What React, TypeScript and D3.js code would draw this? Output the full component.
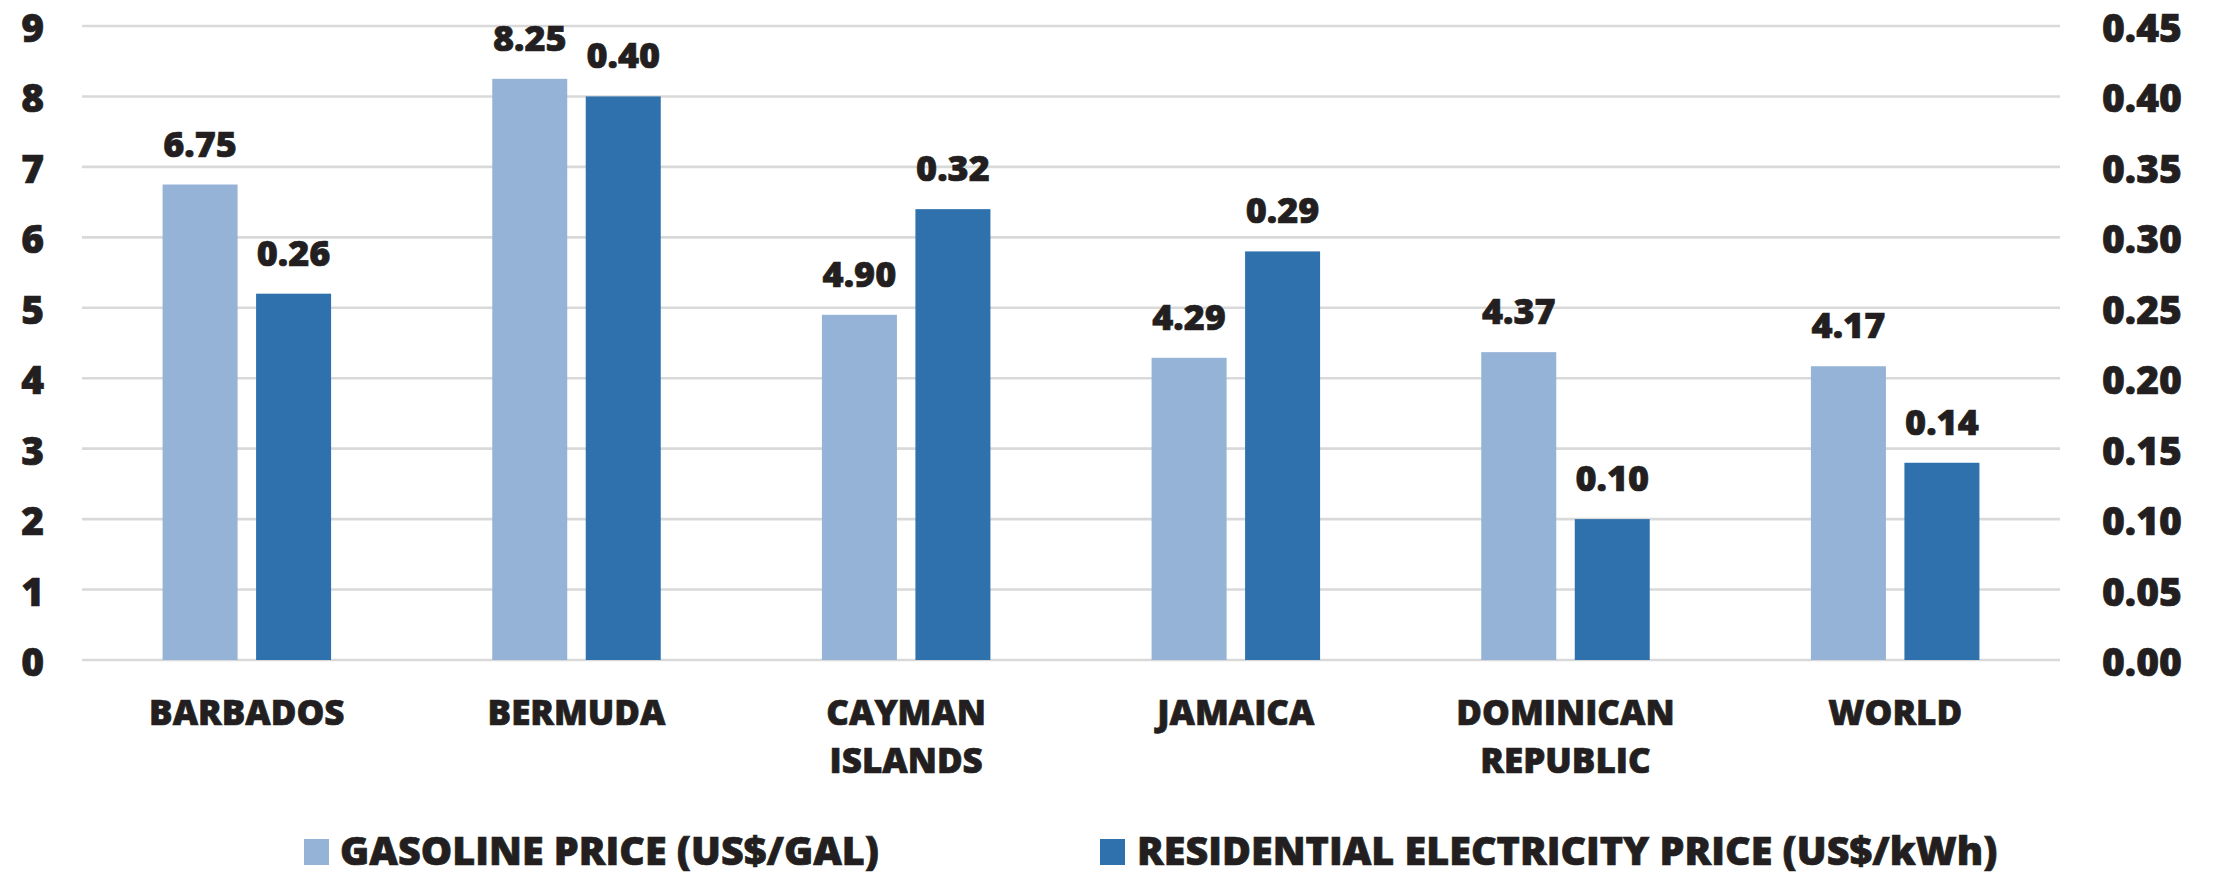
import * as d3 from 'd3';

const categories = ['BARBADOS', 'BERMUDA', 'CAYMAN ISLANDS', 'JAMAICA', 'DOMINICAN REPUBLIC', 'WORLD'];
const categoryLines = [['BARBADOS'], ['BERMUDA'], ['CAYMAN', 'ISLANDS'], ['JAMAICA'], ['DOMINICAN', 'REPUBLIC'], ['WORLD']];
const gasoline = [6.75, 8.25, 4.9, 4.29, 4.37, 4.17];
const electricity = [0.26, 0.4, 0.32, 0.29, 0.1, 0.14];
const leftTicks = [0, 1, 2, 3, 4, 5, 6, 7, 8, 9];
const rightTicks = [0, 0.05, 0.1, 0.15, 0.2, 0.25, 0.3, 0.35, 0.4, 0.45];
const seriesNames = ['GASOLINE PRICE (US$/GAL)', 'RESIDENTIAL ELECTRICITY PRICE (US$/kWh)'];

const W = 2216;
const H = 877;
const COLOR_GAS = '#95b3d7';
const COLOR_ELEC = '#2e71ad';
const TEXT = '#231f20';
const FONT = '"Open Sans", "DejaVu Sans", sans-serif';

// shared bold text style (slight stroke makes it as heavy as the original)
const bold = { fontWeight: 800, fill: TEXT, stroke: TEXT, strokeWidth: 0.7 };

export default function App() {
  const left = 82;
  const right = 2060;
  const top = 26;
  const bottom = 660;

  const x = d3.scaleBand<string>().domain(categories).range([left, right]);
  const yL = d3.scaleLinear().domain([0, 9]).range([bottom, top]);
  const yR = d3.scaleLinear().domain([0, 0.45]).range([bottom, top]);

  const barW = 75;
  const innerGap = 18.5;
  const legendY = 865;

  return (
    <div style={{ position: 'absolute', left: 0, top: 0 }}>
      <svg width={W} height={H} style={{ display: 'block', background: '#fff' }} fontFamily={FONT}>
        {/* grid */}
        {leftTicks.map(t => (
          <line key={'g' + t} x1={left} x2={right} y1={yL(t)} y2={yL(t)} stroke="#d9d9d9" strokeWidth={2.6} />
        ))}
        {/* left ticks */}
        {leftTicks.map(t => (
          <text key={'l' + t} x={44} y={yL(t)} dy="0.41em" textAnchor="end" fontSize={39} {...bold}>
            {d3.format('d')(t)}
          </text>
        ))}
        {/* right ticks */}
        {rightTicks.map(t => (
          <text key={'r' + t} x={2102} y={yR(t)} dy="0.41em" textAnchor="start" fontSize={39} {...bold}>
            {d3.format('.2f')(t)}
          </text>
        ))}
        {/* bars */}
        {categories.map((c, i) => {
          const cx = (x(c) as number) + x.bandwidth() / 2;
          const gx = cx - innerGap / 2 - barW;
          const ex = cx + innerGap / 2;
          const gy = yL(gasoline[i]);
          const ey = yR(electricity[i]);
          return (
            <g key={c}>
              <rect x={gx} y={gy} width={barW} height={bottom - gy} fill={COLOR_GAS} />
              <rect x={ex} y={ey} width={barW} height={bottom - ey} fill={COLOR_ELEC} />
              <text x={gx + barW / 2} y={gy - 28} textAnchor="middle" fontSize={36} {...bold}>
                {d3.format('.2f')(gasoline[i])}
              </text>
              <text x={ex + barW / 2} y={ey - 28} textAnchor="middle" fontSize={36} {...bold}>
                {d3.format('.2f')(electricity[i])}
              </text>
              {categoryLines[i].map((ln, j) => (
                <text key={ln} x={cx} y={725 + j * 48} textAnchor="middle" fontSize={35} {...bold}>
                  {ln}
                </text>
              ))}
            </g>
          );
        })}
        {/* legend */}
        <rect x={304} y={legendY - 26} width={25} height={26} fill={COLOR_GAS} />
        <text x={340} y={legendY} fontSize={39.5} {...bold}>{seriesNames[0]}</text>
        <rect x={1100} y={legendY - 26} width={25} height={26} fill={COLOR_ELEC} />
        <text x={1137} y={legendY} fontSize={39.5} {...bold}>{seriesNames[1]}</text>
      </svg>
    </div>
  );
}
